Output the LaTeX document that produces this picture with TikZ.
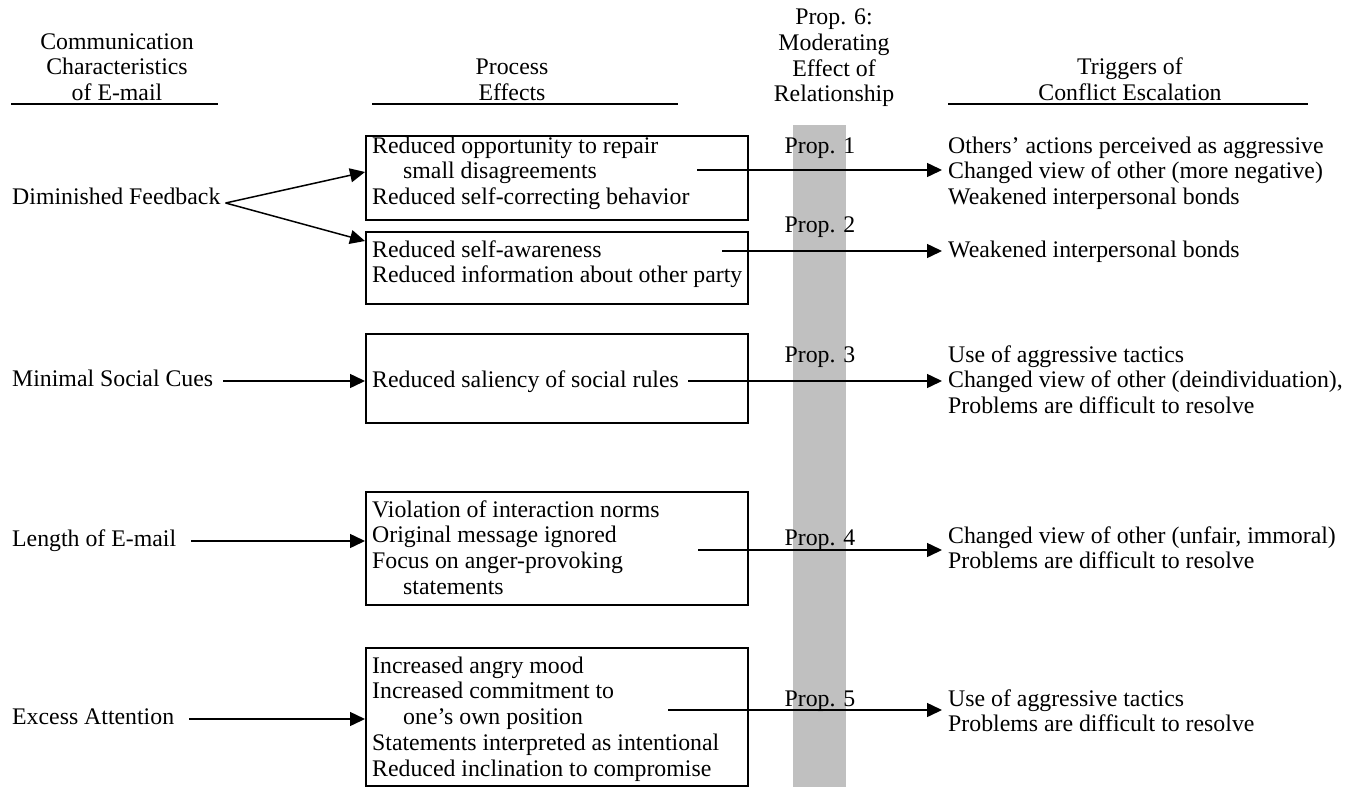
\documentclass[tikz,border=0pt]{standalone}
\usepackage{fontspec}
\setmainfont{Liberation Serif}
\usetikzlibrary{arrows.meta}
\definecolor{bargray}{RGB}{192,192,192}
\newcommand{\mlines}[2][l]{\begin{tabular}[t]{@{}#1@{}}#2\end{tabular}}
\tikzset{
  txt/.style={inner sep=0pt, font=\fontsize{23.8pt}{25.8pt}\selectfont},
  lbl/.style={txt, anchor=base west},
  hdr/.style={txt, anchor=base},
  side/.style={txt, anchor=west, text height=16pt, text depth=5pt},
  boxnode/.style={draw, line width=1.5pt, inner sep=0pt, anchor=north west, minimum width=382pt},
  arr/.style={line width=1.5pt, -{Triangle[length=15pt,width=14pt]}},
  rulestyle/.style={line width=1.5pt},
}
\begin{document}
\begin{tikzpicture}[x=1pt,y=-1pt]
\useasboundingbox (0,0) rectangle (1354,787);
% moderating bar
\fill[bargray] (793,125) rectangle (846,787);
% headers
\node[hdr] (h1) at (117,49) {\mlines[c]{Communication\\Characteristics\\of E-mail}};
\node[hdr] (h2) at (512,74.5) {\mlines[c]{Process\\Effects}};
\node[hdr] (h3) at (834,24.5) {\mlines[c]{Prop. 6:\\Moderating\\Effect of\\Relationship}};
\node[hdr] (h4) at (1130,74.5) {\mlines[c]{Triggers of\\Conflict Escalation}};
\draw[rulestyle] (11,104) -- (218,104);
\draw[rulestyle] (372,104) -- (678,104);
\draw[rulestyle] (948,104) -- (1308,104);
% left labels
\node[side] (df) at (12,199) {Diminished Feedback};
\node[side] (msc) at (12,381) {Minimal Social Cues};
\node[side] (loe) at (12,541) {Length of E-mail};
\node[side] (ea) at (12,719) {Excess Attention};
% boxes
\node[boxnode, minimum height=84pt] (b1) at (365,135) {};
\node[boxnode, minimum height=72pt] (b2) at (365,231) {};
\node[boxnode, minimum height=89pt] (b3) at (365,333) {};
\node[boxnode, minimum height=113pt] (b4) at (365,491) {};
\node[boxnode, minimum height=138pt] (b5) at (365,647) {};
% box texts
\node[lbl] (t1) at (372,153) {\mlines{Reduced opportunity to repair\\\hspace*{31pt}small disagreements\\Reduced self-correcting behavior}};
\node[lbl] (t2) at (372,257) {\mlines{Reduced self-awareness\\Reduced information about other party}};
\node[lbl] (t3) at (372,387.5) {Reduced saliency of social rules};
\node[lbl] (t4) at (372,517) {\mlines{Violation of interaction norms\\Original message ignored\\Focus on anger-provoking\\\hspace*{31pt}statements}};
\node[lbl] (t5) at (372,673) {\mlines{Increased angry mood\\Increased commitment to\\\hspace*{31pt}one’s own position\\Statements interpreted as intentional\\Reduced inclination to compromise}};
% proposition labels
\node[hdr] (p1) at (820,153) {Prop. 1};
\node[hdr] (p2) at (820,232) {Prop. 2};
\node[hdr] (p3) at (820,362) {Prop. 3};
\node[hdr] (p4) at (820,545) {Prop. 4};
\node[hdr] (p5) at (820,706) {Prop. 5};
% triggers
\node[lbl] (g1) at (948,153) {\mlines{Others’ actions perceived as aggressive\\Changed view of other (more negative)\\Weakened interpersonal bonds}};
\node[lbl] (g2) at (948,257) {Weakened interpersonal bonds};
\node[lbl] (g3) at (948,362) {\mlines{Use of aggressive tactics\\Changed view of other (deindividuation),\\Problems are difficult to resolve}};
\node[lbl] (g4) at (948,543) {\mlines{Changed view of other (unfair, immoral)\\Problems are difficult to resolve}};
\node[lbl] (g5) at (948,706) {\mlines{Use of aggressive tactics\\Problems are difficult to resolve}};
% left arrows
\draw[arr] ([shift={(5pt,-4pt)}]df.east) -- (b1.west |- 0,172);
\draw[arr] ([shift={(5pt,-4pt)}]df.east) -- (b2.west |- 0,241);
\draw[arr, shorten <=10pt] (msc) -- (msc -| b3.west);
\draw[arr, shorten <=15pt] (loe) -- (loe -| b4.west);
\draw[arr, shorten <=15pt] (ea) -- (ea -| b5.west);
% right arrows
\coordinate (s1) at (697,170);
\coordinate (s2) at (722,251);
\coordinate (s3) at (688,381);
\coordinate (s4) at (698,550);
\coordinate (s5) at (668,710);
\draw[arr, shorten >=6pt] (s1) -- (s1 -| g1.west);
\draw[arr, shorten >=6pt] (s2) -- (s2 -| g2.west);
\draw[arr, shorten >=6pt] (s3) -- (s3 -| g3.west);
\draw[arr, shorten >=6pt] (s4) -- (s4 -| g4.west);
\draw[arr, shorten >=6pt] (s5) -- (s5 -| g5.west);
\end{tikzpicture}
\end{document}
